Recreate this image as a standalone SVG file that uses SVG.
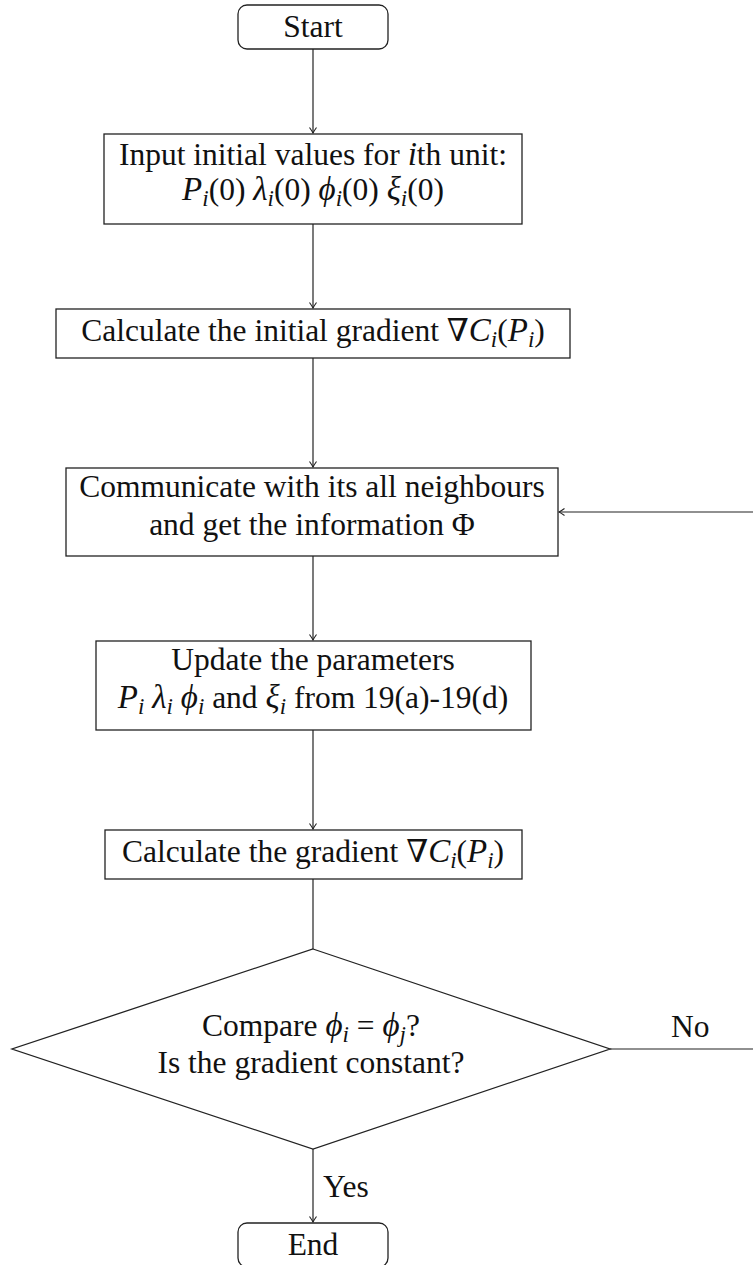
<svg xmlns="http://www.w3.org/2000/svg" width="753" height="1265" viewBox="0 0 753 1265">
<style>
.box{fill:#fff;stroke:#222;stroke-width:1.3}
.t{font-family:"Liberation Serif","DejaVu Serif",serif;font-size:31.5px;fill:#111;text-anchor:middle}
.m{font-style:italic;font-size:33px}
.s{font-style:italic;font-size:23px}
.c{fill:none;stroke:#222;stroke-width:1.2}
</style>
<defs>
<marker id="ah" markerWidth="10" markerHeight="10" refX="7" refY="5" orient="auto" markerUnits="userSpaceOnUse">
<path d="M1.5,1.5 Q5,4 7,5 Q5,6 1.5,8.5" fill="none" stroke="#222" stroke-width="1.1"/>
</marker>
</defs>
<rect width="753" height="1265" fill="#fff"/>
<g id="connectors">
<line class="c" x1="313" y1="49" x2="313" y2="133" marker-end="url(#ah)"/>
<line class="c" x1="313" y1="224" x2="313" y2="308" marker-end="url(#ah)"/>
<line class="c" x1="313" y1="358" x2="313" y2="467" marker-end="url(#ah)"/>
<line class="c" x1="313" y1="556" x2="313" y2="640" marker-end="url(#ah)"/>
<line class="c" x1="313" y1="730" x2="313" y2="829" marker-end="url(#ah)"/>
<line class="c" x1="313" y1="879" x2="313" y2="949"/>
<line class="c" x1="313" y1="1149" x2="313" y2="1222" marker-end="url(#ah)"/>
<path class="c" d="M610,1049 H754 V512 H559" marker-end="url(#ah)"/>
<text class="t" x="323" y="1197" style="text-anchor:start">Yes</text>
<text class="t" x="671" y="1037" style="text-anchor:start">No</text>
</g>
<g id="start">
<rect class="box" x="238" y="5" width="150" height="44" rx="9"/>
<text class="t" x="313" y="37">Start</text>
</g>
<g id="input">
<rect class="box" x="104" y="134" width="418" height="90"/>
<text class="t" x="313" y="165">Input initial values for <tspan class="m">i</tspan>th unit:</text>
<text class="t" x="313" y="200"><tspan class="m">P</tspan><tspan class="s" dy="6">i</tspan><tspan dy="-6">(0) </tspan><tspan class="m">λ</tspan><tspan class="s" dy="6">i</tspan><tspan dy="-6">(0) </tspan><tspan class="m">ϕ</tspan><tspan class="s" dy="6">i</tspan><tspan dy="-6">(0) </tspan><tspan class="m">ξ</tspan><tspan class="s" dy="6">i</tspan><tspan dy="-6">(0)</tspan></text>
</g>
<g id="calc-init">
<rect class="box" x="56" y="309" width="514" height="49"/>
<text class="t" x="313" y="341">Calculate the initial gradient ∇<tspan class="m">C</tspan><tspan class="s" dy="6">i</tspan><tspan dy="-6">(</tspan><tspan class="m">P</tspan><tspan class="s" dy="6">i</tspan><tspan dy="-6">)</tspan></text>
</g>
<g id="communicate">
<rect class="box" x="66" y="468" width="492" height="88"/>
<text class="t" x="312" y="497">Communicate with its all neighbours</text>
<text class="t" x="312" y="535">and get the information Φ</text>
</g>
<g id="update">
<rect class="box" x="96" y="641" width="435" height="89"/>
<text class="t" x="313" y="670">Update the parameters</text>
<text class="t" x="313" y="708"><tspan class="m">P</tspan><tspan class="s" dy="6">i</tspan><tspan dy="-6"> </tspan><tspan class="m">λ</tspan><tspan class="s" dy="6">i</tspan><tspan dy="-6"> </tspan><tspan class="m">ϕ</tspan><tspan class="s" dy="6">i</tspan><tspan dy="-6"> and </tspan><tspan class="m">ξ</tspan><tspan class="s" dy="6">i</tspan><tspan dy="-6"> from 19(a)-19(d)</tspan></text>
</g>
<g id="calc-grad">
<rect class="box" x="105" y="830" width="417" height="49"/>
<text class="t" x="313" y="862">Calculate the gradient ∇<tspan class="m">C</tspan><tspan class="s" dy="6">i</tspan><tspan dy="-6">(</tspan><tspan class="m">P</tspan><tspan class="s" dy="6">i</tspan><tspan dy="-6">)</tspan></text>
</g>
<g id="decision">
<polygon class="box" points="313,949 610,1049 313,1149 12,1049"/>
<text class="t" x="311" y="1036">Compare <tspan class="m">ϕ</tspan><tspan class="s" dy="6">i</tspan><tspan dy="-6">  =  </tspan><tspan class="m">ϕ</tspan><tspan class="s" dy="6">j</tspan><tspan dy="-6">?</tspan></text>
<text class="t" x="311" y="1073">Is the gradient constant?</text>
</g>
<g id="end">
<rect class="box" x="238" y="1223" width="150" height="44" rx="9"/>
<text class="t" x="313" y="1255">End</text>
</g>
</svg>
